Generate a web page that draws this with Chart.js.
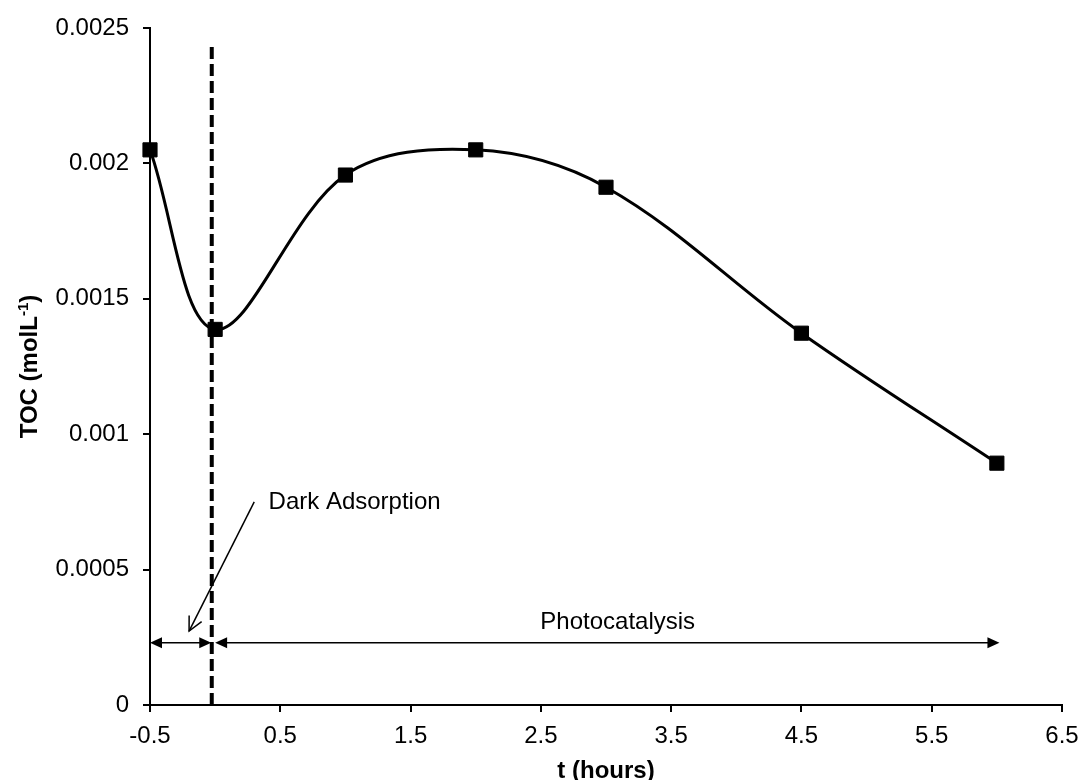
<!DOCTYPE html>
<html lang="en">
<head>
<meta charset="UTF-8" />
<script src="https://cdn.jsdelivr.net/npm/chart.js@4.4.1/dist/chart.umd.min.js"></script>
<title>TOC vs time</title>
<style>
  body { margin: 0; background: #fff; }
  #wrap { width: 1083px; height: 780px; }
</style>
</head>
<body>
<div id="wrap"><canvas id="tocChart"></canvas></div>
<script>
const hours = [-0.5, 0, 1, 2, 3, 4.5, 6];
const toc = [0.00205, 0.001387, 0.001957, 0.00205, 0.001912, 0.001373, 0.000893];
const xTicks = [-0.5, 0.5, 1.5, 2.5, 3.5, 4.5, 5.5, 6.5];
const yTicks = [0, 0.0005, 0.001, 0.0015, 0.002, 0.0025];

// annotations, in data units
const darkLineX = -0.026;
const darkLineTop = 0.00243;
const spanY = 0.00023;
const darkSpan = [-0.5, -0.03];
const photoSpan = [0.0, 6.02];
const pointerFrom = [0.3, 0.00075];
const pointerTo = [-0.2, 0.000273];
const notes = [
  { text: 'Dark Adsorption', x: 0.41, y: 0.00075, align: 'left' },
  { text: 'Photocatalysis', x: 3.09, y: 0.000306, align: 'center' }
];

const FONT = '"Liberation Sans", Arial, sans-serif';
Chart.defaults.color = '#000';
Chart.defaults.font.family = FONT;
Chart.defaults.font.size = 24;

function head(ctx, x, y, ang, filled) {
  ctx.save();
  ctx.translate(x, y);
  ctx.rotate(ang);
  ctx.beginPath();
  if (filled) {
    ctx.moveTo(0, 0);
    ctx.lineTo(-12, -5.5);
    ctx.lineTo(-12, 5.5);
    ctx.closePath();
    ctx.fill();
  } else {
    ctx.moveTo(-14, -7);
    ctx.lineTo(0, 0);
    ctx.lineTo(-14, 7);
    ctx.stroke();
  }
  ctx.restore();
}

function span(ctx, x1, x2, y) {
  ctx.beginPath();
  ctx.moveTo(x1 + 4, y);
  ctx.lineTo(x2 - 4, y);
  ctx.stroke();
  head(ctx, x1, y, Math.PI, true);
  head(ctx, x2, y, 0, true);
}

const annotate = {
  id: 'annotate',
  beforeDatasetsDraw(chart) {
    const { ctx, scales: { x, y } } = chart;
    ctx.save();
    ctx.strokeStyle = '#000';
    ctx.lineWidth = 4;
    ctx.setLineDash([12, 5]);
    ctx.beginPath();
    ctx.moveTo(x.getPixelForValue(darkLineX), y.getPixelForValue(0));
    ctx.lineTo(x.getPixelForValue(darkLineX), y.getPixelForValue(darkLineTop));
    ctx.stroke();
    ctx.restore();
  },
  afterDraw(chart) {
    const { ctx, scales: { x, y }, chartArea } = chart;
    ctx.save();
    ctx.strokeStyle = '#000';
    ctx.fillStyle = '#000';
    ctx.lineWidth = 1.5;
    const sy = y.getPixelForValue(spanY);
    span(ctx, x.getPixelForValue(darkSpan[0]), x.getPixelForValue(darkSpan[1]), sy);
    span(ctx, x.getPixelForValue(photoSpan[0]), x.getPixelForValue(photoSpan[1]), sy);

    const fx = x.getPixelForValue(pointerFrom[0]), fy = y.getPixelForValue(pointerFrom[1]);
    const tx = x.getPixelForValue(pointerTo[0]), ty = y.getPixelForValue(pointerTo[1]);
    ctx.beginPath();
    ctx.moveTo(fx, fy);
    ctx.lineTo(tx, ty);
    ctx.stroke();
    head(ctx, tx, ty, Math.atan2(ty - fy, tx - fx), false);

    ctx.font = '24px ' + FONT;
    ctx.textBaseline = 'middle';
    notes.forEach(n => {
      ctx.textAlign = n.align;
      ctx.fillText(n.text, x.getPixelForValue(n.x), y.getPixelForValue(n.y));
    });

    // axis titles
    ctx.textAlign = 'center';
    ctx.textBaseline = 'alphabetic';
    ctx.font = 'bold 24px ' + FONT;
    ctx.fillText('t (hours)', (chartArea.left + chartArea.right) / 2, 778);

    const main = 'TOC (molL';
    const sup = '-1';
    const close = ')';
    const wMain = ctx.measureText(main).width;
    const wClose = ctx.measureText(close).width;
    ctx.font = 'bold 15px ' + FONT;
    const wSup = ctx.measureText(sup).width;
    const total = wMain + wSup + wClose;
    ctx.translate(37, (chartArea.top + chartArea.bottom) / 2);
    ctx.rotate(-Math.PI / 2);
    ctx.textAlign = 'left';
    ctx.font = 'bold 24px ' + FONT;
    ctx.fillText(main, -total / 2, 0);
    ctx.fillText(close, -total / 2 + wMain + wSup, 0);
    ctx.font = 'bold 15px ' + FONT;
    ctx.fillText(sup, -total / 2 + wMain, -9);
    ctx.restore();
  }
};

new Chart(document.getElementById('tocChart'), {
  type: 'scatter',
  data: {
    datasets: [{
      data: hours.map((h, i) => ({ x: h, y: toc[i] })),
      showLine: true,
      tension: 0.35,
      borderColor: '#000',
      borderWidth: 3,
      backgroundColor: '#000',
      pointStyle: 'rect',
      pointRadius: 10,
      pointBorderWidth: 1,
      pointHoverRadius: 10,
      clip: 14
    }]
  },
  options: {
    responsive: true,
    maintainAspectRatio: false,
    animation: false,
    layout: { padding: { top: 28, right: 21, left: 0, bottom: 0 } },
    plugins: { legend: { display: false }, tooltip: { enabled: false } },
    scales: {
      x: {
        type: 'linear',
        min: -0.5,
        max: 6.5,
        afterBuildTicks: s => { s.ticks = xTicks.map(v => ({ value: v })); },
        afterFit: s => { s.height = 75; s.paddingLeft = 0; s.paddingRight = 0; },
        ticks: { padding: 10, maxRotation: 0, callback: v => String(v) },
        grid: { drawOnChartArea: false, color: '#000', lineWidth: 2, tickLength: 7 },
        border: { color: '#000', width: 2 }
      },
      y: {
        min: 0,
        max: 0.0025,
        afterBuildTicks: s => { s.ticks = yTicks.map(v => ({ value: v })); },
        afterFit: s => { s.width = 150; s.paddingTop = 0; s.paddingBottom = 0; },
        ticks: { padding: 14, callback: v => String(Number(v.toFixed(4))) },
        grid: { drawOnChartArea: false, color: '#000', lineWidth: 2, tickLength: 7 },
        border: { color: '#000', width: 2 }
      }
    }
  },
  plugins: [annotate]
});
</script>
</body>
</html>
